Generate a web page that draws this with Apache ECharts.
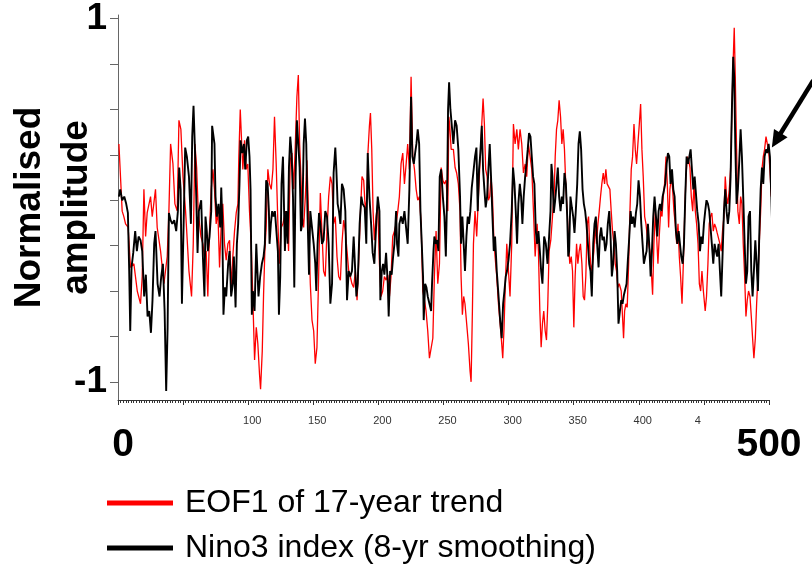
<!DOCTYPE html>
<html>
<head>
<meta charset="utf-8">
<script src="https://cdn.jsdelivr.net/npm/echarts@6/dist/echarts.min.js"></script>
<style>html,body{margin:0;padding:0;background:#fff;}#c{width:812px;height:564px;}</style>
</head>
<body>
<div id="c"></div>
<script>
// ---- data (years, normalised amplitude) ----
const redYears = [0.7,3.2,4.5,5.8,7.8,9.6,12.2,14.8,17.3,18.6,19.9,21.2,22.4,25.0,26.3,28.8,30.1,32.7,35.3,37.8,39.1,40.4,42.2,43.7,45.5,46.8,48.3,49.9,51.9,54.5,56.5,57.8,59.1,60.4,61.6,63.7,65.2,66.4,67.7,69.0,70.3,71.6,72.9,74.1,75.4,76.7,78.0,79.3,80.5,81.8,83.1,84.4,85.7,86.9,88.2,89.5,90.8,92.1,92.8,93.9,94.9,95.9,97.2,98.5,99.7,101.0,102.3,103.6,104.9,106.2,107.4,108.7,109.5,110.8,111.8,112.8,113.8,115.1,116.4,117.7,119.0,120.2,121.5,122.8,124.1,125.4,126.7,128.5,129.8,131.0,132.3,133.6,134.9,136.2,137.4,138.5,139.5,140.5,141.5,142.6,143.9,145.1,146.4,147.7,149.0,150.3,151.5,152.8,154.1,155.4,156.7,157.9,159.2,160.5,161.8,163.1,164.4,165.6,166.9,168.2,169.5,170.8,172.0,173.3,174.6,175.9,177.2,178.4,179.7,181.0,182.3,183.6,184.8,186.1,187.4,188.7,190.0,191.3,191.8,193.1,193.9,194.9,195.9,196.9,198.2,199.5,200.8,202.0,203.3,204.6,205.9,207.2,208.5,209.7,211.0,212.3,213.6,214.9,216.1,217.4,218.7,220.0,221.3,222.5,223.8,225.1,226.4,227.7,229.0,230.2,231.5,232.8,234.1,235.4,236.6,237.9,239.2,240.5,241.8,243.0,244.3,245.6,246.9,248.2,249.5,250.7,252.0,253.3,254.1,254.8,255.9,257.6,258.9,260.1,261.4,262.7,263.5,264.5,265.5,266.5,267.8,269.1,270.4,271.2,272.2,273.0,274.2,275.5,276.8,278.1,279.4,280.4,281.4,282.4,283.5,284.5,285.5,286.5,287.6,288.6,289.6,290.9,292.2,293.5,294.7,295.5,296.5,297.5,298.6,299.9,301.1,302.4,303.7,305.0,306.3,307.5,308.8,310.1,311.4,312.7,313.9,315.2,316.5,317.8,319.1,320.4,321.9,322.9,324.0,325.0,326.0,327.0,328.1,329.1,330.1,331.1,332.4,333.7,335.0,335.8,336.8,337.8,338.8,339.9,340.9,341.9,342.9,344.0,345.0,346.0,347.0,348.1,349.1,350.1,351.1,352.2,353.2,354.2,355.2,356.3,357.3,358.3,359.3,360.4,361.4,362.4,363.4,364.5,365.5,366.5,367.5,368.6,369.6,370.6,371.6,372.7,373.7,374.7,375.7,376.8,377.8,378.8,379.8,380.9,381.9,382.9,383.9,385.0,386.5,387.5,388.3,389.1,390.1,391.1,392.2,393.2,394.2,395.2,396.3,397.3,398.3,399.3,400.4,401.4,402.4,403.4,404.5,405.5,406.5,407.5,408.6,409.6,410.6,411.6,412.7,413.7,414.7,415.7,416.8,417.8,418.8,419.8,420.9,421.9,422.9,423.9,425.0,426.0,427.0,428.0,429.1,430.1,431.1,432.1,433.2,434.2,435.2,436.2,437.3,438.3,439.3,440.3,441.4,442.4,443.4,444.4,445.5,446.5,447.5,448.5,449.6,451.0,452.0,453.1,454.1,455.1,456.1,457.2,458.2,459.2,460.2,461.3,462.3,463.3,464.3,465.4,466.4,467.4,468.4,469.5,470.5,471.5,472.5,473.3,474.1,475.1,476.1,477.2,478.2,479.2,480.2,481.3,482.3,483.3,484.3,485.4,486.4,487.4,488.4,489.5,490.5,491.5,492.5,493.6,494.6,495.6,496.6,497.7,498.7,499.7,500.7,501.8,502.8,503.8,504.8,505.9,506.9,507.9,508.9,510.0,511.0,512.0,513.0,514.1,515.1,516.1,517.1];
const redValues = [0.31,-0.06,-0.09,-0.13,-0.15,-0.37,-0.35,-0.50,-0.57,-0.42,0.06,-0.20,-0.07,0.02,-0.09,0.06,-0.15,-0.28,-0.46,-0.31,-0.06,0.31,0.20,-0.02,-0.06,0.44,0.39,0.13,-0.06,-0.39,-0.53,-0.24,0.31,0.18,-0.06,-0.20,-0.24,-0.31,-0.28,-0.53,-0.17,0.06,0.17,0.06,-0.13,-0.06,-0.37,-0.13,-0.02,-0.24,-0.33,-0.24,-0.22,-0.48,-0.31,-0.17,-0.07,-0.02,0.24,0.50,0.33,0.17,0.33,0.17,0.20,-0.06,-0.24,-0.55,-0.88,-0.70,-0.79,-0.96,-1.04,-0.83,-0.52,-0.28,-0.15,0.17,0.09,0.06,0.17,0.46,0.20,-0.13,-0.35,-0.15,-0.13,-0.06,-0.09,-0.28,0.22,0.26,0.06,0.31,0.57,0.69,0.31,0.13,-0.09,-0.15,0.02,0.22,-0.09,-0.46,-0.66,-0.72,-0.90,-0.81,-0.42,0.04,-0.18,-0.39,-0.42,-0.17,0.02,0.13,0.09,-0.13,-0.09,-0.31,-0.42,-0.44,-0.24,-0.11,-0.17,-0.28,-0.39,-0.42,-0.46,-0.48,-0.39,-0.55,-0.35,-0.09,0.13,0.11,-0.06,0.02,0.24,0.41,0.48,0.28,-0.06,-0.22,-0.09,-0.02,-0.35,-0.53,-0.50,-0.42,-0.44,-0.41,-0.53,-0.42,-0.20,-0.17,-0.13,-0.06,0.02,0.20,0.26,0.09,0.20,0.31,0.17,0.68,0.24,0.17,0.06,0.00,0.02,-0.13,-0.50,-0.55,-0.61,-0.72,-0.87,-0.87,-0.76,-0.42,-0.17,-0.46,-0.35,0.18,0.11,0.09,0.11,-0.06,0.46,0.41,0.28,0.28,0.18,0.15,0.09,-0.06,-0.42,-0.63,-0.53,-0.57,-0.68,-0.79,-0.94,-1.00,-0.61,-0.24,-0.06,-0.20,0.02,0.02,0.42,0.56,0.42,0.17,0.13,0.00,0.02,0.13,0.02,-0.20,-0.31,-0.42,-0.57,-0.68,-0.79,-0.87,-0.70,-0.46,-0.24,-0.39,-0.53,-0.24,0.42,0.31,0.39,0.28,0.39,0.31,0.15,0.20,0.13,0.31,0.24,0.17,-0.06,-0.31,-0.13,-0.28,-0.61,-0.81,-0.68,-0.61,-0.72,-0.77,-0.57,-0.28,-0.22,-0.09,0.04,0.24,0.39,0.44,0.55,0.46,0.31,0.39,0.28,0.07,-0.06,-0.24,-0.35,-0.31,-0.39,-0.70,-0.42,-0.24,-0.35,-0.28,-0.24,-0.35,-0.53,-0.55,-0.42,-0.13,-0.09,-0.28,-0.39,-0.35,-0.28,-0.13,-0.24,-0.13,-0.06,0.02,0.09,0.15,0.09,0.17,0.09,0.09,0.06,-0.06,-0.17,-0.24,-0.35,-0.39,-0.48,-0.46,-0.50,-0.64,-0.76,-0.61,-0.57,-0.59,-0.35,-0.06,0.17,0.24,0.42,0.28,0.20,0.31,0.42,0.53,0.28,0.13,-0.09,-0.13,-0.20,-0.24,-0.28,-0.39,-0.52,-0.24,-0.06,-0.20,-0.35,-0.20,-0.06,-0.09,0.02,0.09,0.24,0.09,-0.15,0.06,0.13,0.06,-0.06,-0.13,-0.24,-0.13,-0.31,-0.42,-0.57,-0.35,-0.09,0.13,0.24,0.22,0.18,0.02,-0.06,0.09,-0.06,-0.13,-0.24,-0.46,-0.50,-0.39,-0.50,-0.61,-0.53,-0.35,-0.13,-0.09,-0.07,-0.17,-0.13,-0.15,-0.18,-0.17,-0.24,-0.28,-0.17,-0.09,0.13,0.02,-0.02,0.06,0.17,0.50,0.77,0.95,0.68,0.28,-0.06,-0.13,0.02,-0.02,-0.24,-0.42,-0.64,-0.55,-0.50,-0.53,-0.64,-0.76,-0.87,-0.76,-0.57,-0.42,-0.24,-0.06,0.17,0.24,0.28,0.35,0.31,0.28,0.17,0.02,0.13,0.22,0.33,0.13,-0.02,-0.24,-0.42,-0.35,-0.24,-0.39,-0.28,-0.24,-0.31,-0.35,-0.13];

const blackYears = [0.7,1.7,3.2,4.8,6.3,7.6,8.6,9.4,10.4,11.7,13.2,14.5,15.8,17.3,18.6,20.1,21.4,22.7,24.0,25.3,26.5,27.8,28.8,30.4,31.9,33.2,34.5,35.8,37.0,38.1,39.1,40.4,41.7,43.2,44.7,46.0,47.0,48.1,49.1,50.4,51.6,52.9,54.5,56.0,57.0,58.0,59.1,60.1,61.1,62.1,63.9,65.2,66.4,67.2,68.2,69.0,70.3,71.6,72.3,73.4,74.1,74.9,75.9,77.2,78.5,79.3,80.0,81.0,82.1,83.1,84.6,85.7,86.9,88.2,89.0,90.3,91.3,92.3,93.3,94.1,95.4,96.7,97.7,99.0,100.0,101.0,101.8,102.8,103.6,104.9,106.2,106.9,107.9,109.2,110.5,111.8,112.8,113.8,114.9,115.9,116.4,117.4,118.4,119.5,120.5,121.5,122.8,123.6,124.6,125.6,126.7,128.2,129.2,130.3,131.3,132.3,133.3,134.4,135.4,136.4,137.4,138.5,139.5,140.5,141.5,142.6,143.6,144.6,145.6,146.7,147.7,149.0,150.3,151.5,152.3,153.3,154.4,155.4,156.7,157.9,159.2,160.5,161.8,163.1,164.4,165.6,166.9,167.7,168.7,169.7,170.8,172.0,173.3,174.6,175.9,177.2,178.4,179.7,181.0,182.0,183.1,184.1,185.6,186.9,187.9,189.5,190.7,191.8,193.1,194.4,195.6,196.9,198.2,199.5,200.8,201.5,202.6,203.6,204.6,205.9,207.2,207.9,209.0,210.2,211.3,212.3,213.6,214.3,215.4,216.1,217.4,218.7,220.0,221.3,222.5,223.8,225.1,226.1,227.2,228.2,229.2,230.2,231.3,232.3,233.3,234.3,234.8,235.9,236.9,237.9,239.2,240.5,241.2,242.3,243.0,244.1,245.1,246.1,247.1,248.2,249.5,250.7,251.8,252.8,253.5,254.3,255.3,257.6,258.9,260.1,261.4,262.7,263.5,264.5,265.5,266.5,267.6,268.6,269.6,270.6,271.7,272.9,274.2,275.3,276.3,277.3,278.3,279.4,280.4,281.4,282.4,283.5,284.5,285.5,286.5,287.6,288.6,289.6,290.9,292.2,293.5,294.7,295.8,296.8,297.8,298.8,299.9,301.1,302.4,303.4,304.5,305.5,306.5,307.5,308.6,309.6,310.6,311.6,312.7,313.7,314.7,315.7,316.8,317.8,318.8,319.8,320.9,321.9,322.9,324.0,325.0,326.0,327.3,328.6,329.9,331.1,332.2,332.9,333.7,334.7,335.8,336.8,337.8,338.8,339.9,340.9,341.9,342.9,344.0,345.0,345.8,346.5,347.5,348.6,349.6,350.6,351.6,352.7,353.7,354.7,355.7,356.8,357.8,358.8,359.8,360.9,361.9,362.9,363.9,365.0,366.0,367.0,368.0,369.1,370.1,371.1,372.1,373.2,374.2,375.2,376.2,377.3,378.3,379.3,380.3,381.4,382.4,383.4,384.4,385.5,386.5,387.5,388.6,389.6,390.6,391.6,392.7,393.7,394.7,395.7,396.8,397.8,398.8,399.8,400.9,401.9,402.9,403.9,405.0,406.0,407.0,408.0,409.1,410.1,411.1,412.1,413.2,414.2,415.2,416.2,417.3,418.3,419.3,420.3,421.4,422.4,423.4,424.4,425.5,426.5,427.5,428.5,429.6,430.6,431.6,432.6,433.7,434.7,435.7,436.7,437.8,438.8,439.8,440.8,441.9,442.9,443.9,444.9,446.0,447.0,448.0,449.0,450.0,451.0,452.0,453.1,454.1,455.1,456.1,457.2,458.2,459.2,460.2,461.3,462.3,463.3,464.3,465.4,466.4,467.4,468.4,469.5,470.5,471.5,472.5,473.3,474.1,475.1,476.1,477.2,478.2,479.2,480.2,481.3,482.3,483.3,484.3,485.4,486.4,487.4,488.4,489.5,490.5,491.5,492.5,493.6,494.6,495.6,496.6,497.7,498.7,499.7,500.7,501.8,502.8,503.8,504.8,505.9,506.9,507.9,508.9,510.0,511.0,512.0,513.0,514.1,515.1,516.1,517.1];
const blackValues = [0.02,0.06,0.00,0.02,-0.02,-0.07,-0.39,-0.72,-0.37,-0.29,-0.17,-0.28,-0.20,-0.22,-0.28,-0.53,-0.41,-0.64,-0.61,-0.73,-0.55,-0.24,-0.17,-0.46,-0.53,-0.42,-0.35,-0.61,-1.05,-0.70,-0.07,-0.11,-0.13,-0.11,-0.17,-0.06,0.18,0.06,-0.57,-0.13,0.29,0.24,0.13,-0.13,0.35,0.52,0.28,0.02,-0.29,-0.06,0.00,-0.31,-0.53,-0.09,-0.17,-0.28,-0.20,-0.06,0.41,0.41,0.31,0.02,-0.09,-0.02,-0.15,0.07,-0.09,-0.63,-0.48,-0.53,-0.35,-0.28,-0.53,-0.46,-0.31,-0.59,-0.24,-0.13,0.09,0.33,0.26,0.31,0.17,0.33,0.35,0.24,0.06,-0.63,-0.50,-0.61,-0.24,-0.24,-0.53,-0.42,-0.35,-0.31,-0.24,0.11,0.09,-0.06,-0.24,-0.13,-0.06,-0.09,-0.06,-0.07,-0.28,-0.63,-0.42,0.09,0.24,-0.28,-0.06,-0.24,0.18,0.35,0.26,0.02,-0.48,0.13,0.44,0.31,0.18,-0.17,-0.13,0.31,0.45,0.31,-0.09,-0.41,-0.06,-0.07,-0.24,-0.35,-0.50,-0.24,-0.07,-0.13,-0.24,-0.22,-0.06,-0.09,-0.24,-0.57,-0.46,0.15,0.29,0.17,-0.02,-0.06,-0.13,0.09,0.06,-0.06,-0.55,-0.39,-0.42,-0.39,-0.20,-0.20,-0.53,-0.46,-0.13,0.02,-0.02,-0.04,-0.24,0.26,0.02,-0.13,-0.29,-0.35,-0.15,0.02,-0.06,-0.55,-0.39,-0.35,-0.41,-0.29,-0.46,-0.64,-0.39,-0.41,-0.31,-0.24,-0.06,-0.24,-0.31,-0.13,-0.09,-0.13,-0.06,-0.07,-0.24,0.06,0.57,0.24,0.20,0.26,0.31,0.39,0.31,-0.06,-0.24,-0.42,-0.66,-0.46,-0.48,-0.53,-0.57,-0.61,-0.46,-0.28,-0.20,-0.24,-0.22,-0.28,0.13,0.17,0.02,-0.09,-0.31,0.04,0.50,0.65,0.50,0.31,0.44,0.41,0.28,0.02,-0.24,-0.09,-0.24,-0.39,-0.20,-0.09,-0.13,-0.06,0.07,0.15,0.24,0.29,-0.06,0.17,0.26,0.41,0.17,0.06,-0.04,0.02,0.17,0.31,0.13,-0.09,-0.28,-0.20,-0.39,-0.52,-0.66,-0.76,-0.57,-0.50,-0.42,-0.39,-0.33,-0.24,-0.06,0.18,0.09,-0.06,-0.24,-0.02,0.09,0.02,-0.13,0.02,0.13,0.20,0.28,0.37,0.35,0.24,0.13,0.09,-0.17,-0.24,-0.17,-0.28,-0.39,-0.46,-0.20,-0.24,-0.35,-0.20,-0.06,0.20,0.13,-0.07,0.00,0.09,0.18,0.02,-0.06,0.02,-0.02,0.15,0.09,-0.09,-0.31,-0.28,0.02,-0.04,-0.09,-0.18,-0.06,0.09,0.31,0.38,0.28,0.06,-0.02,-0.06,-0.13,-0.24,-0.35,-0.39,-0.53,-0.24,-0.13,-0.09,-0.24,-0.37,-0.20,-0.15,-0.22,-0.20,-0.28,-0.24,-0.13,-0.06,-0.20,-0.42,-0.35,-0.17,-0.24,-0.39,-0.68,-0.61,-0.55,-0.57,-0.52,-0.53,-0.46,-0.33,-0.20,-0.06,-0.13,-0.09,-0.15,-0.07,-0.02,0.11,0.02,-0.13,-0.24,-0.35,-0.31,-0.28,-0.13,-0.24,-0.42,-0.28,-0.09,0.02,-0.09,-0.20,-0.06,-0.02,-0.06,0.02,0.02,0.09,0.20,0.26,0.24,0.09,0.17,0.06,0.02,-0.17,-0.24,-0.17,-0.24,-0.31,-0.35,-0.24,0.02,0.24,0.20,0.24,0.28,0.17,0.06,0.13,0.13,-0.06,-0.13,-0.28,-0.20,-0.24,-0.13,-0.06,0.00,-0.02,-0.06,-0.15,-0.24,-0.35,-0.24,-0.28,-0.31,-0.24,-0.39,-0.53,-0.31,-0.06,0.06,-0.06,-0.13,-0.06,0.13,0.50,0.79,0.68,0.31,-0.02,0.06,0.22,0.39,0.24,0.02,-0.24,-0.46,-0.39,-0.09,-0.06,-0.39,-0.53,-0.39,-0.22,-0.35,-0.50,-0.20,0.06,0.18,0.09,0.24,0.28,0.26,0.31,0.24,0.02,-0.24,0.06,0.20,-0.13,-0.39,-0.09,0.17,0.28,0.17,-0.06,-0.13,-0.20,0.06,0.09,-0.06];

const seriesNames = ['EOF1 of 17-year trend', 'Nino3 index (8-yr smoothing)'];
const smallTickValues = [100, 150, 200, 250, 300, 350, 400, 450];
const smallTickLabels = ['100', '150', '200', '250', '300', '350', '400', '4'];
const bigXTickValues = [0, 500];
const bigXTickLabels = ['0', '500'];
const yTickValues = [-1, -0.75, -0.5, -0.25, 0, 0.25, 0.5, 0.75, 1];
const yLabelValues = [-1, 1];
const yLabelTexts = ['-1', '1'];
// annotation arrow, in data units (tail -> head)
const arrowFrom = [534, 0.66];
const arrowTo = [502.2, 0.29];

const FONT = "'Liberation Sans', Arial, Helvetica, sans-serif";
function zip(xs, ys) { return xs.map((x, i) => [x, ys[i]]); }

const chart = echarts.init(document.getElementById('c'), null, { renderer: 'canvas' });
chart.setOption({
  animation: false,
  backgroundColor: '#ffffff',
  textStyle: { fontFamily: FONT },
  grid: { left: 118, right: 43, top: 15, bottom: 164, containLabel: false, outerBoundsMode: 'none' },
  legend: {
    data: seriesNames,
    orient: 'vertical',
    left: 107,
    top: 485,
    height: 120,
    icon: 'rect',
    itemWidth: 66,
    itemHeight: 5,
    itemGap: 9,
    padding: 0,
    textStyle: { fontFamily: FONT, fontSize: 32, color: '#000', lineHeight: 36, padding: [0, 0, 0, 7] }
  },
  xAxis: [{
    type: 'value', min: 0, max: 500, interval: 50, position: 'bottom',
    axisLine: { show: true, onZero: false, lineStyle: { color: '#333', width: 1 } },
    axisTick: { show: true, length: 5, lineStyle: { color: '#333' } },
    minorTick: { show: true, splitNumber: 25, length: 3, lineStyle: { color: '#333' } },
    splitLine: { show: false },
    axisLabel: {
      margin: 15, fontSize: 11, color: '#333', fontFamily: FONT,
      formatter: function (v) {
        const i = smallTickValues.indexOf(v);
        if (i < 0) return '';
        return smallTickLabels[i] === '4' ? '{s|4}' : '{n|' + smallTickLabels[i] + '}';
      },
      rich: {
        s: { fontSize: 11, color: '#333', padding: [0, 12, 0, 0] },
        n: { fontSize: 11, color: '#333', padding: [0, 0, 0, 8] }
      }
    }
  }, {
    type: 'value', min: 0, max: 500, interval: 500, position: 'bottom',
    axisLine: { show: false, onZero: false }, axisTick: { show: false }, splitLine: { show: false },
    axisLabel: {
      margin: 26, fontSize: 39, fontWeight: 'bold', color: '#000', fontFamily: FONT,
      formatter: function (v) {
        const i = bigXTickValues.indexOf(v);
        if (i < 0) return '';
        return v === 0 ? '{z|' + bigXTickLabels[i] + '}' : bigXTickLabels[i];
      },
      rich: { z: { fontSize: 39, fontWeight: 'bold', color: '#000', padding: [0, 0, 0, 10] } }
    }
  }],
  yAxis: {
    type: 'value', min: -1.1, max: 1.02,
    name: 'Normalised\namplitude',
    nameLocation: 'middle', nameRotate: 90, nameGap: 18, nameMoveOverlap: false,
    nameTextStyle: { fontSize: 37, fontWeight: 'bold', color: '#000', lineHeight: 47, fontFamily: FONT },
    axisLine: { show: true, onZero: false, lineStyle: { color: '#666', width: 1 } },
    axisTick: { show: true, length: 8, customValues: yTickValues, lineStyle: { color: '#666' } },
    splitLine: { show: false },
    axisLabel: {
      customValues: yLabelValues, margin: 11, fontSize: 37, fontWeight: 'bold', color: '#000', fontFamily: FONT,
      formatter: function (v) {
        const i = yLabelValues.indexOf(v);
        return i < 0 ? '' : yLabelTexts[i];
      }
    }
  },
  series: [{
    name: seriesNames[0], type: 'line', xAxisIndex: 0, showSymbol: false, clip: false,
    color: '#ff0000', lineStyle: { color: '#ff0000', width: 1.3 },
    data: zip(redYears, redValues), z: 2
  }, {
    name: seriesNames[1], type: 'line', xAxisIndex: 0, showSymbol: false, clip: false,
    color: '#000000', lineStyle: { color: '#000000', width: 1.9 },
    data: zip(blackYears, blackValues), z: 3
  }]
});

// Arrow annotation: positioned from data units through the chart's own scales
(function drawArrow() {
  const p1 = chart.convertToPixel({ xAxisIndex: 0, yAxisIndex: 0 }, arrowFrom);
  const p2 = chart.convertToPixel({ xAxisIndex: 0, yAxisIndex: 0 }, arrowTo);
  const dx = p2[0] - p1[0], dy = p2[1] - p1[1];
  const len = Math.sqrt(dx * dx + dy * dy);
  const ux = dx / len, uy = dy / len;
  const headLen = 17, headHalf = 8;
  const base = [p2[0] - ux * headLen, p2[1] - uy * headLen];
  const left = [base[0] - uy * headHalf, base[1] + ux * headHalf];
  const right = [base[0] + uy * headHalf, base[1] - ux * headHalf];
  chart.setOption({
    graphic: [
      { type: 'line', silent: true, z: 10,
        shape: { x1: p1[0], y1: p1[1], x2: base[0] + ux * 2, y2: base[1] + uy * 2 },
        style: { stroke: '#000', lineWidth: 4.5 } },
      { type: 'polygon', silent: true, z: 10,
        shape: { points: [p2, left, right] },
        style: { fill: '#000' } }
    ]
  });
})();
</script>
</body>
</html>
